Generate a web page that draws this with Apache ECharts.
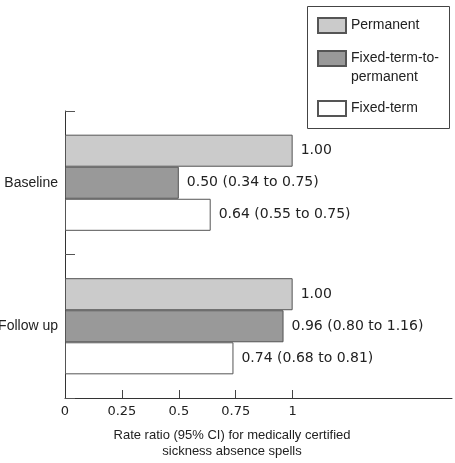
<!DOCTYPE html>
<html>
<head>
<meta charset="utf-8">
<script src="https://cdn.jsdelivr.net/npm/echarts@6/dist/echarts.min.js"></script>
<style>
  html, body { margin: 0; padding: 0; background: #fff; }
  #chart { width: 455px; height: 463px; }
</style>
</head>
<body>
<div id="chart"></div>
<script>
// data
const categories = ['Baseline', 'Follow up'];
const permanent = [1.00, 1.00];
const fixedToPerm = [0.50, 0.96];
const fixedToPermLow = [0.34, 0.80];
const fixedToPermHigh = [0.75, 1.16];
const fixedTerm = [0.64, 0.74];
const fixedTermLow = [0.55, 0.68];
const fixedTermHigh = [0.75, 0.81];
const xTicks = [0.25, 0.5, 0.75, 1];
const xLabels = [0, 0.25, 0.5, 0.75, 1];

const textFont = 'Liberation Sans';
const numFont = 'DejaVu Sans';
const ink = '#222';
const edge = '#555';

const fmt = v => v.toFixed(2);
const ciLabel = (low, high) => p => fmt(p.value) + ' (' + fmt(low[p.dataIndex]) + ' to ' + fmt(high[p.dataIndex]) + ')';

const barLabel = formatter => ({
    show: true,
    position: 'right',
    distance: 8,
    fontFamily: numFont,
    fontSize: 14,
    color: ink,
    formatter
});

const legendBase = {
    orient: 'vertical',
    left: 317,
    padding: 0,
    icon: 'rect',
    itemWidth: 28,
    itemHeight: 15,
    selectedMode: false,
    textStyle: {fontFamily: textFont, fontSize: 14, color: ink, lineHeight: 19}
};

const chart = echarts.init(document.getElementById('chart'));
chart.setOption({
    animation: false,
    grid: {left: 65, right: 3, top: 111, bottom: 65, containLabel: false, outerBoundsMode: 'none'},
    legend: [
        Object.assign({}, legendBase, {top: 16, data: ['Permanent']}),
        // empty first line keeps the swatch level with the first text line
        Object.assign({}, legendBase, {
            top: 30,
            data: ['Fixed-term-to-permanent'],
            formatter: name => '\n' + name.replace('to-', 'to-\n')
        }),
        Object.assign({}, legendBase, {top: 99, data: ['Fixed-term']})
    ],
    graphic: [{
        type: 'rect',
        shape: {x: 307.5, y: 6.5, width: 142, height: 122},
        style: {fill: 'none', stroke: '#444', lineWidth: 1}
    }],
    xAxis: {
        type: 'value',
        min: 0,
        max: 1.7,
        splitLine: {show: false},
        axisLine: {show: true, lineStyle: {color: '#333', width: 1}},
        axisTick: {show: true, inside: true, length: 8, customValues: xTicks, lineStyle: {color: '#444'}},
        axisLabel: {
            customValues: xLabels,
            margin: 7,
            fontFamily: numFont,
            fontSize: 13,
            color: ink,
            formatter: v => String(v)
        },
        name: 'Rate ratio (95% CI) for medically certified\nsickness absence spells',
        nameLocation: 'middle',
        nameGap: 29,
        nameTextStyle: {fontFamily: textFont, fontSize: 13, color: ink, lineHeight: 16, padding: [0, 53, 0, 0]}
    },
    yAxis: {
        type: 'category',
        data: categories,
        inverse: true,
        axisLine: {show: true, lineStyle: {color: '#333', width: 1}},
        axisTick: {show: true, inside: true, length: 10, lineStyle: {color: '#555'}},
        axisLabel: {fontFamily: textFont, fontSize: 14, color: ink, margin: 7}
    },
    series: [
        {
            name: 'Permanent',
            type: 'bar',
            data: permanent,
            barGap: '0%',
            barCategoryGap: '33%',
            itemStyle: {color: '#cbcbcb', borderColor: edge, borderWidth: 1},
            label: barLabel(p => fmt(p.value))
        },
        {
            name: 'Fixed-term-to-permanent',
            type: 'bar',
            data: fixedToPerm,
            barGap: '0%',
            barCategoryGap: '33%',
            itemStyle: {color: '#999999', borderColor: edge, borderWidth: 1},
            label: barLabel(ciLabel(fixedToPermLow, fixedToPermHigh))
        },
        {
            name: 'Fixed-term',
            type: 'bar',
            data: fixedTerm,
            barGap: '0%',
            barCategoryGap: '33%',
            itemStyle: {color: '#ffffff', borderColor: edge, borderWidth: 1},
            label: barLabel(ciLabel(fixedTermLow, fixedTermHigh))
        }
    ]
});
</script>
</body>
</html>
